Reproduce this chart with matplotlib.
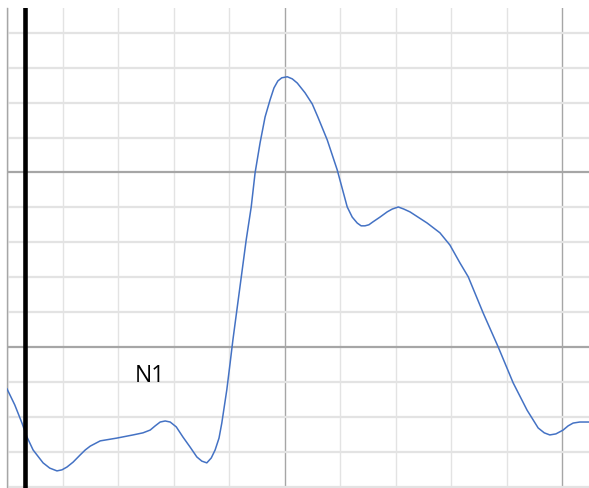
# Averaged waveform on a strip-chart style grid
import numpy as np
import matplotlib
matplotlib.use('Agg')
import matplotlib.pyplot as plt
from matplotlib.ticker import MultipleLocator

# waveform samples, in grid divisions (x: time, y: amplitude)
time_div = [0.00, 0.14, 0.27, 0.36, 0.47, 0.65, 0.77, 0.90, 0.99, 1.08, 1.19,
            1.32, 1.41, 1.50, 1.68, 1.98, 2.27, 2.45, 2.58, 2.67, 2.76, 2.85,
            2.94, 3.05, 3.17, 3.30, 3.42, 3.51, 3.60, 3.68, 3.75, 3.82, 3.87,
            3.96, 4.02, 4.07, 4.31, 4.40, 4.47, 4.56, 4.65, 4.74, 4.81, 4.88,
            4.95, 5.05, 5.14, 5.23, 5.37, 5.50, 5.60, 5.77, 5.95, 6.13, 6.22,
            6.31, 6.38, 6.45, 6.52, 6.59, 6.72, 6.85, 6.94, 7.05, 7.15, 7.26,
            7.57, 7.80, 7.98, 8.16, 8.31, 8.58, 8.85, 9.12, 9.37, 9.48, 9.57,
            9.68, 9.78, 9.89, 10.02, 10.11, 10.20, 10.32, 10.49]
amp_div = [-1.20, -1.66, -2.18, -2.58, -2.95, -3.32, -3.47, -3.55, -3.52, -3.44,
           -3.30, -3.09, -2.95, -2.84, -2.69, -2.61, -2.52, -2.46, -2.38, -2.26,
           -2.15, -2.12, -2.15, -2.29, -2.58, -2.87, -3.15, -3.27, -3.32, -3.18,
           -2.95, -2.61, -2.18, -1.23, -0.46, 0.20, 3.07, 4.01, 4.99, 5.85,
           6.59, 7.08, 7.42, 7.62, 7.71, 7.74, 7.68, 7.56, 7.28, 6.96, 6.59,
           5.93, 5.07, 4.01, 3.72, 3.55, 3.47, 3.47, 3.50, 3.58, 3.72, 3.87,
           3.95, 4.01, 3.95, 3.87, 3.55, 3.27, 2.92, 2.41, 2.01, 0.97, 0.00,
           -1.03, -1.81, -2.09, -2.32, -2.46, -2.52, -2.49, -2.38, -2.26, -2.18,
           -2.15, -2.15]

stim_time = 0.32           # stimulus marker
peak_label = 'N1'
peak_label_pos = (2.58, -1.0)

W, H = 589, 488
fig = plt.figure(figsize=(W / 100, H / 100), dpi=100)
ax = fig.add_axes([7 / W, 0, (W - 7) / W, (H - 8) / H])

ax.set_xlim(0, 10.486)
ax.set_ylim(-4.04, 9.71)

# grid: thin light minor lines, darker major lines every 5 divisions
ax.xaxis.set_minor_locator(MultipleLocator(1))
ax.yaxis.set_minor_locator(MultipleLocator(1))
ax.xaxis.set_major_locator(MultipleLocator(5))
ax.yaxis.set_major_locator(MultipleLocator(5))
ax.grid(which='minor', axis='x', color='#e3e3e3', lw=1.0)
ax.grid(which='minor', axis='y', color='#e3e3e3', lw=1.6)
ax.grid(which='major', axis='x', color='#a6a6a6', lw=1.0)
ax.grid(which='major', axis='y', color='#a6a6a6', lw=1.6)
ax.set_axisbelow(True)
ax.tick_params(which='both', length=0, labelbottom=False, labelleft=False)

for side in ['top', 'right', 'bottom']:
    ax.spines[side].set_visible(False)
ax.spines['left'].set_color('#a6a6a6')
ax.spines['left'].set_linewidth(1.0)

ax.plot(time_div, amp_div, color='#4472c4', lw=1.1, zorder=3,
        solid_joinstyle='round')
ax.axvline(stim_time, color='black', lw=3.3, zorder=4)

ax.text(peak_label_pos[0], peak_label_pos[1], peak_label, ha='center',
        va='baseline', fontsize=16.5, family='Open Sans', color='black')

fig.savefig('out.png', dpi=100)
